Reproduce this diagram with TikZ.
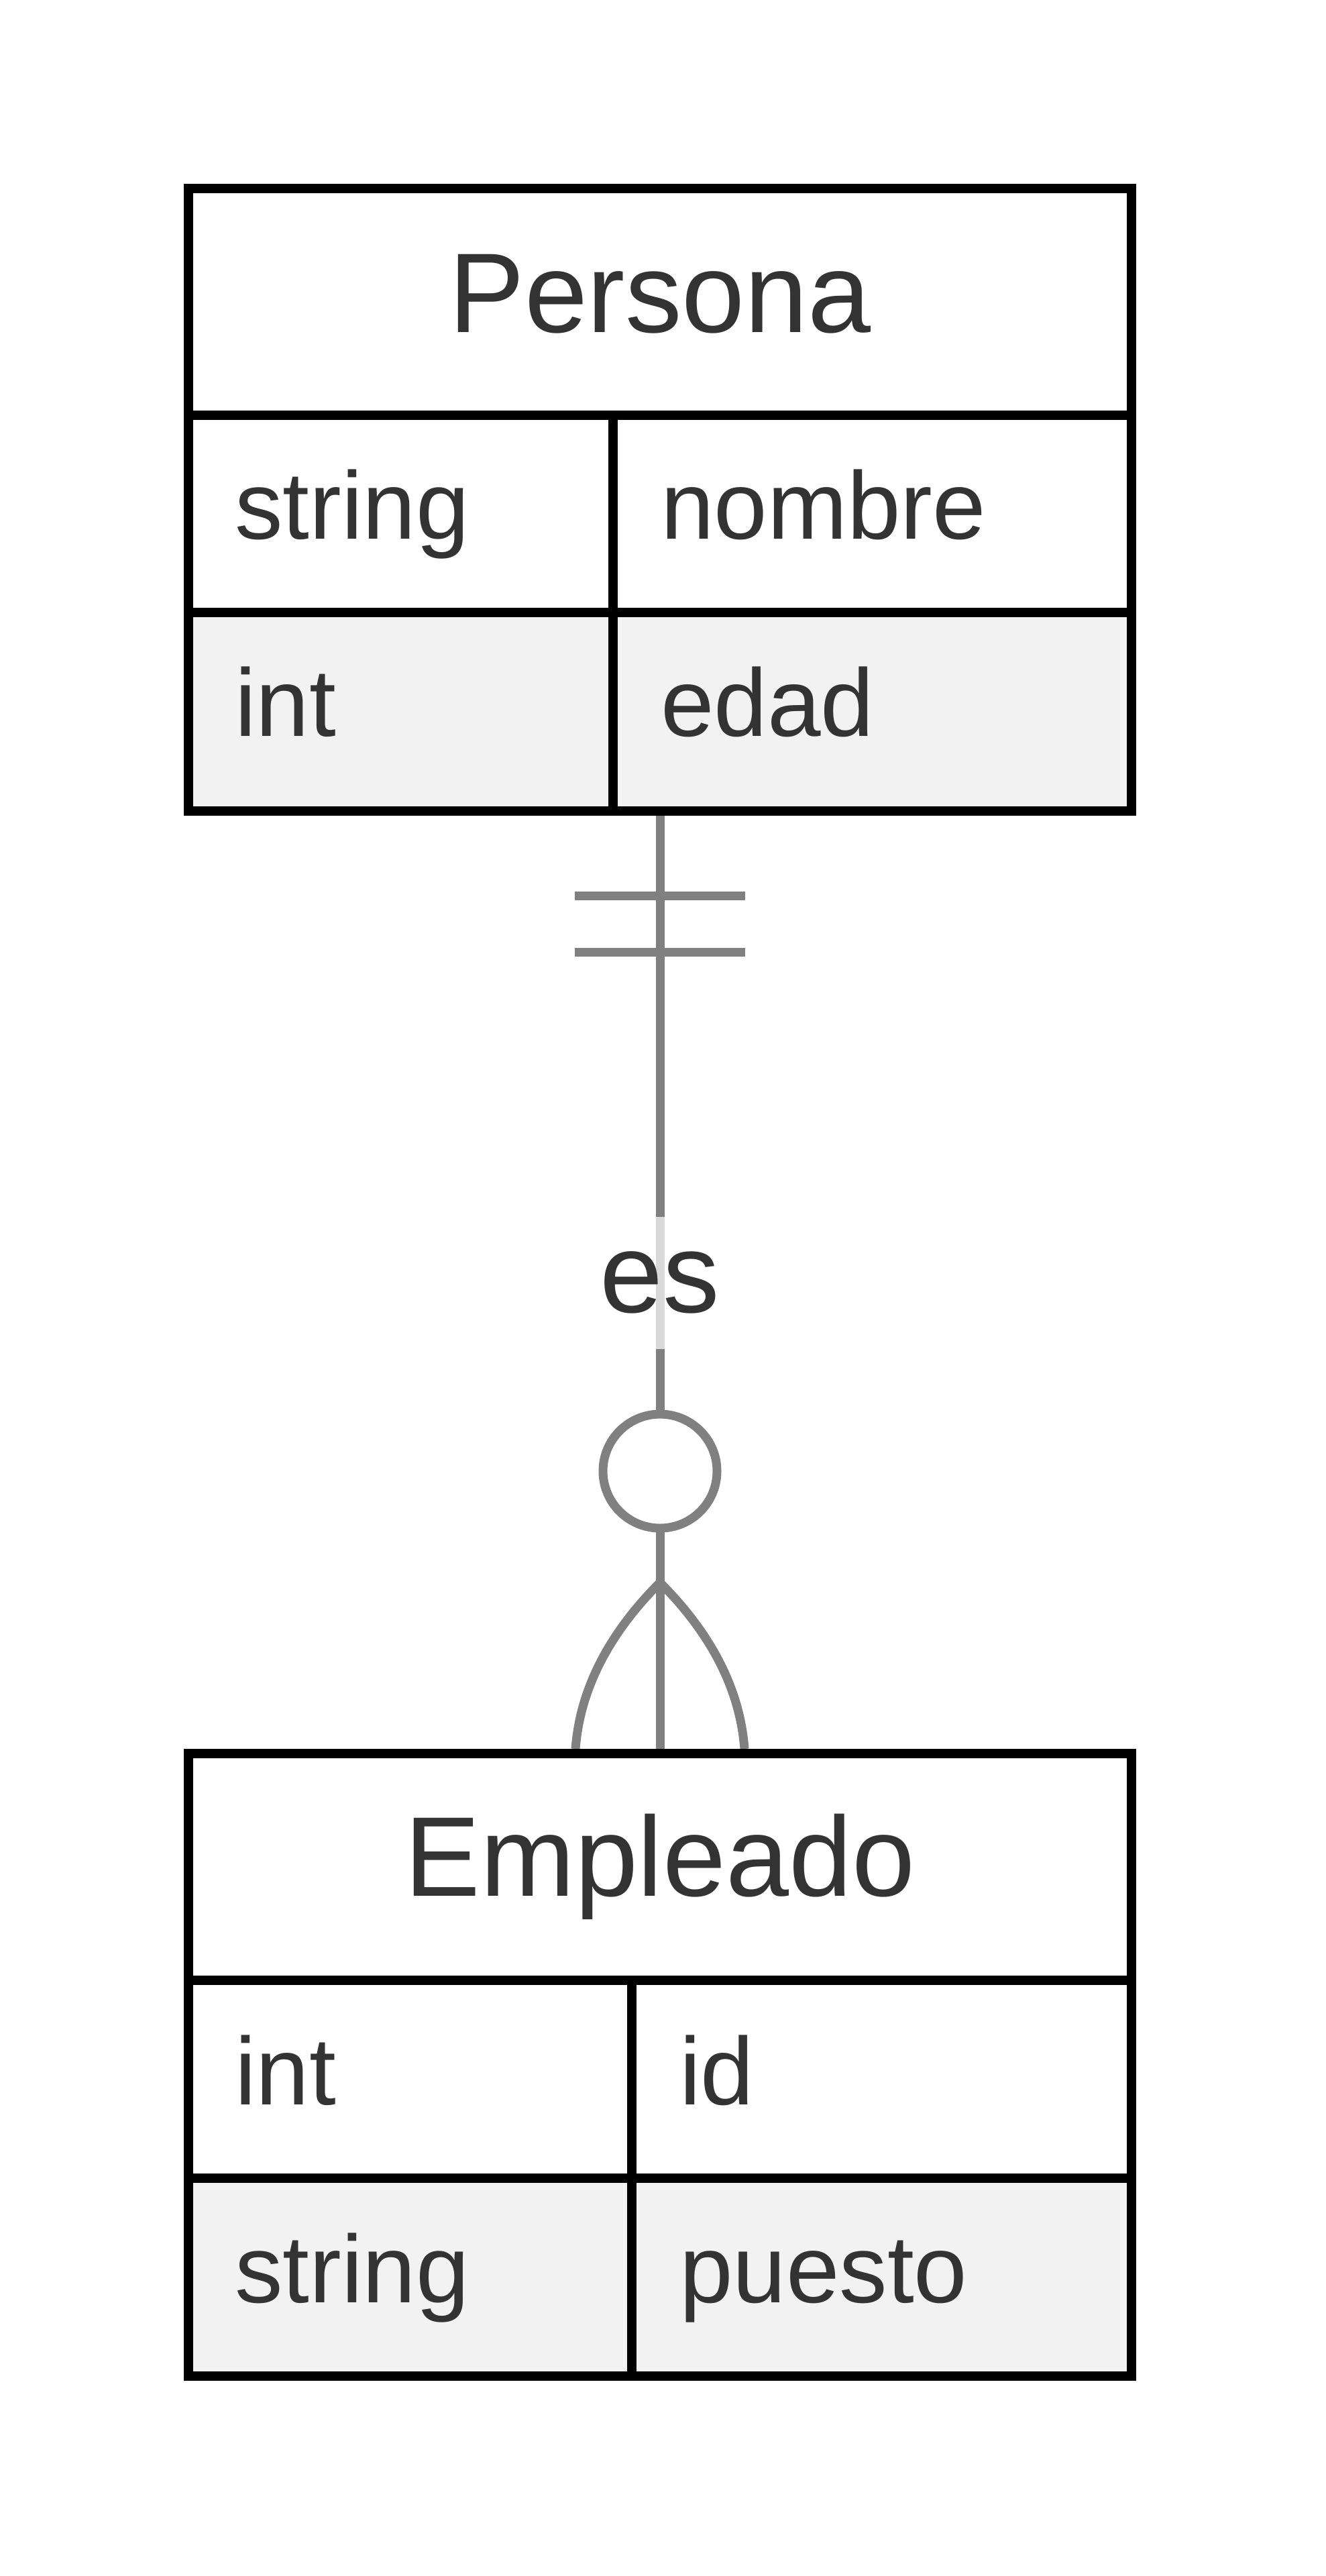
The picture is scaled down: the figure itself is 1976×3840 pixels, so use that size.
\documentclass[tikz,border=0pt]{standalone}
\usepackage{fontspec}
\setmainfont{Liberation Sans}
\definecolor{txt}{HTML}{333333}
\definecolor{rowgray}{HTML}{F2F2F2}
\definecolor{conngray}{HTML}{808080}
\newcommand\myattrfont{\fontsize{143pt}{143pt}\selectfont}
\newcommand\mytitlefont{\fontsize{169pt}{169pt}\selectfont}
\begin{document}
\begin{tikzpicture}[x=1pt,y=-1pt,
 cell/.style={draw=black, line width=14pt, inner sep=0pt, outer sep=0pt, fill=white},
 graycell/.style={cell, fill=rowgray},
 attr/.style={anchor=base west, inner sep=0pt, text=txt, font=\myattrfont},
 ttl/.style={anchor=base, inner sep=0pt, text=txt, font=\mytitlefont},
 conn/.style={draw=conngray, line width=13pt},
 lbl/.style={fill=white, fill opacity=0.7, text opacity=1, text=txt, font=\mytitlefont, inner sep=0pt, minimum height=197pt, minimum width=190pt},
 zerocirc/.style={circle, draw=conngray, line width=13pt, fill=white, minimum size=170pt, inner sep=0pt},
]
\useasboundingbox (0,0) rectangle (1976,3840);

% connector
\coordinate (pa) at (984,1216);
\coordinate (ea) at (984,2607);
\draw[conn] (pa) -- (ea);
% exactly-one marker
\coordinate (b1l) at (857,1335.5); \coordinate (b1r) at (1111,1335.5);
\coordinate (b2l) at (857,1419);   \coordinate (b2r) at (1111,1419);
\draw[conn] (b1l) -- (b1r);
\draw[conn] (b2l) -- (b2r);
% label
\node[lbl] (es) at (984,1912) {es};
% zero-or-more marker
\node[zerocirc] (zero) at (984,2193) {};
\coordinate (apex) at (984,2359);
\coordinate (fl) at (858,2607);
\coordinate (fr) at (1110,2607);
\draw[conn] (apex) .. controls (906.7,2436.3) and (864.7,2519) .. (fl);
\draw[conn] (apex) .. controls (1061.3,2436.3) and (1103.3,2519) .. (fr);

% Persona
\node[cell, minimum width=1406pt, minimum height=338pt] (ph) at (984,450) {};
\node[cell, minimum width=633pt, minimum height=294pt] (p11) at (597.5,766) {};
\node[cell, minimum width=773pt, minimum height=294pt] (p12) at (1300.5,766) {};
\node[graycell, minimum width=633pt, minimum height=296pt] (p21) at (597.5,1061) {};
\node[graycell, minimum width=773pt, minimum height=296pt] (p22) at (1300.5,1061) {};
\node[ttl] (pt) at (984,495) {Persona};
\node[attr] (pt11) at (350,803) {string};
\node[attr] (pt12) at (985,803) {nombre};
\node[attr] (pt21) at (350,1097) {int};
\node[attr] (pt22) at (985,1097) {edad};

% Empleado
\node[cell, minimum width=1406pt, minimum height=338pt] (eh) at (984,2783) {};
\node[cell, minimum width=661pt, minimum height=295pt] (e11) at (611.5,3099.5) {};
\node[cell, minimum width=745pt, minimum height=295pt] (e12) at (1314.5,3099.5) {};
\node[graycell, minimum width=661pt, minimum height=295pt] (e21) at (611.5,3394.5) {};
\node[graycell, minimum width=745pt, minimum height=295pt] (e22) at (1314.5,3394.5) {};
\node[ttl] (et) at (984,2826) {Empleado};
\node[attr] (et11) at (350,3137) {int};
\node[attr] (et12) at (1013,3137) {id};
\node[attr] (et21) at (350,3432) {string};
\node[attr] (et22) at (1013,3432) {puesto};
\end{tikzpicture}
\end{document}
